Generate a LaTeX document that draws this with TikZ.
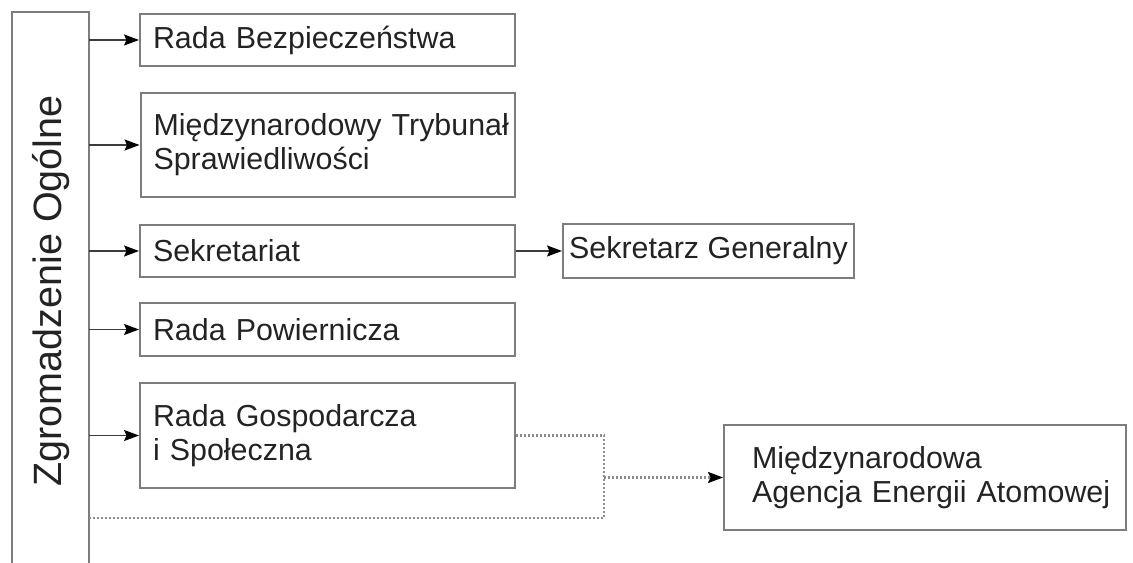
\documentclass[tikz,border=0pt]{standalone}
\usepackage{fontspec}
\setmainfont{Liberation Sans}
\usetikzlibrary{positioning,arrows.meta}
\definecolor{boxGray}{RGB}{125,125,125}
\definecolor{lineGray}{RGB}{60,60,60}
\definecolor{dotGray}{RGB}{140,140,140}
\definecolor{txtGray}{RGB}{35,35,35}
\tikzset{
	organ/.style={draw=boxGray,line width=0.04cm,inner xsep=0.26cm,text width=6.98cm,align=left,text=txtGray,
		font=\fontsize{17.3}{19.3}\selectfont},
	arr/.style={draw=lineGray,line width=0.035cm,-{Stealth[length=0.3cm,width=0.22cm,inset=0.05cm,color=black]}},
	link/.style={draw=dotGray,line width=0.045cm,dash pattern=on 0.04cm off 0.04cm}
}

\begin{document}
\begin{tikzpicture}[x=0.02cm,y=-0.02cm]
		\useasboundingbox (0,0) rectangle (1133,563);
		%\draw[help lines] (0,0) grid[step=50] (1133,563);
		\node[minimum width=1.54cm,minimum height=11.02cm,inner sep=0pt] (zo) at (50.5,287.5) {};
		\draw[boxGray,line width=0.04cm] (zo.south west) -- (zo.north west) -- (zo.north east) -- (zo.south east);
		\node[rotate=90,text=txtGray,font=\fontsize{22.5}{26}\selectfont] (zotxt) at (51,291) {Zgromadzenie Ogólne};

		\node[organ,minimum height=1.04cm] (rb) at (327.5,40) {Rada Bezpieczeństwa};
		\node[organ,minimum height=2.08cm] (mts) at (328,145) {\mbox{Międzynarodowy Trybunał}\\Sprawiedliwości};
		\node[organ,minimum height=1.06cm] (sek) at (327.5,251) {Sekretariat};
		\node[organ,minimum height=1.06cm] (rp) at (327.5,329.5) {Rada Powiernicza};
		\node[organ,minimum height=2.1cm] (rgs) at (327.5,435.5) {Rada Gospodarcza\\i Społeczna};

		\node[organ,inner xsep=0.04cm,text width=,align=center,minimum width=5.82cm,minimum height=1.08cm] (sg) at (708.5,251) {Sekretarz Generalny};
		\node[organ,inner xsep=0.56cm,text width=6.92cm,minimum height=2.1cm] (maea) at (925,477.5) {Międzynarodowa\\\mbox{Agencja Energii Atomowej}};

		% polaczenia
		\draw[arr] (zo.east |- rb.west) -- (rb.west);
		\draw[arr] (zo.east |- mts.west) -- (mts.west);
		\draw[arr] (zo.east |- sek.west) -- (sek.west);
		\draw[arr] (zo.east |- rp.west) -- (rp.west);
		\draw[arr] (zo.east |- rgs.west) -- (rgs.west);
		\draw[arr] (sek.east) -- (sg.west);

		\coordinate (j) at (604,477.5);
		\draw[link] (rgs.east) -| (j) |- (zo.east |- 0,518);
		\draw[arr,link] (j) -- (maea.west);
\end{tikzpicture}
\end{document}
